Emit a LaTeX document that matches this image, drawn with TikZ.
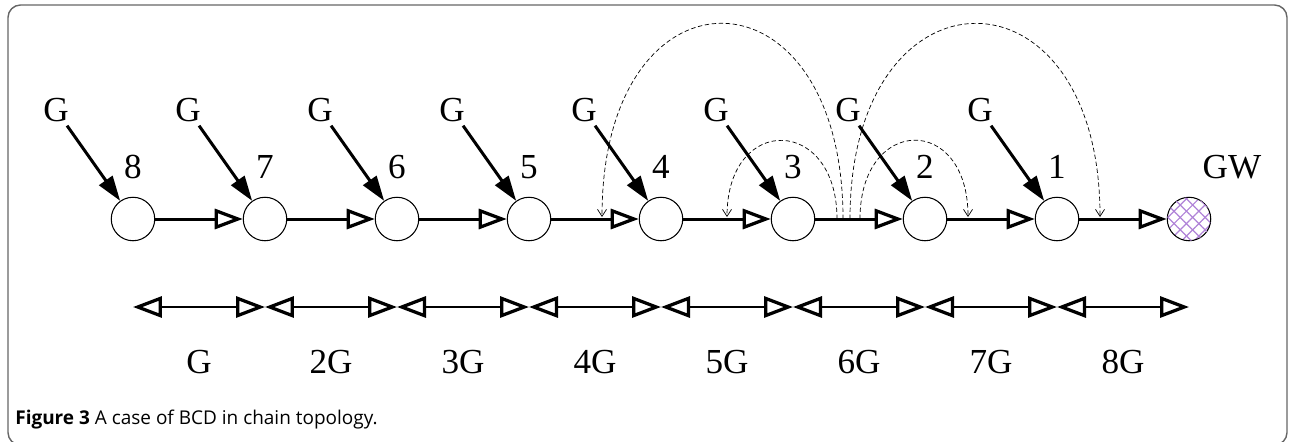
\documentclass[tikz,border=0pt]{standalone}
\usepackage{fontspec}
\setmainfont{Liberation Serif}
\newfontfamily\capfont{Open Sans}
\usepackage{xcolor}
\usepackage{tikz}
\usetikzlibrary{arrows.meta, patterns.meta}
\definecolor{hatch}{RGB}{175,130,215}

\begin{document}
\begin{tikzpicture}[x=0.02cm, y=0.02cm,
    station/.style={circle, draw, minimum size=0.87cm, inner sep=0pt, line width=0.6pt, fill=white},
    lbl/.style={font=\fontsize{20}{20}\selectfont, inner sep=2pt},
    hop/.style={line width=0.06cm, -{Triangle[open, length=0.56cm, width=0.4cm, line width=0.065cm]}},
    feed/.style={line width=0.06cm, -{Triangle[length=0.5cm, width=0.32cm]}},
    span/.style={line width=0.055cm, {Triangle[open, length=0.58cm, width=0.42cm, line width=0.065cm]}-{Triangle[open, length=0.58cm, width=0.42cm, line width=0.065cm]}},
    relay/.style={line width=0.4pt, dash pattern=on 2.5pt off 1.5pt, -{Straight Barb[length=0.14cm, width=0.18cm]}}]
  \useasboundingbox (0,0) rectangle (1291,441);
  \draw[black!60, line width=0.8pt, rounded corners=0.25cm] (8,-4) rectangle (1287,436);

  % chain of stations
  \node[station] at (133,222) (n8) {};
  \node[station] at (265,222) (n7) {};
  \node[station] at (397,222) (n6) {};
  \node[station] at (529,222) (n5) {};
  \node[station] at (661,222) (n4) {};
  \node[station] at (793,222) (n3) {};
  \node[station] at (925,222) (n2) {};
  \node[station] at (1057,222) (n1) {};
  \node[station, pattern={Lines[angle=45, distance=5pt, line width=0.7pt]}, pattern color=hatch,
        postaction={pattern={Lines[angle=-45, distance=5pt, line width=0.7pt]}, pattern color=hatch}]
        at (1189,222) (gw) {};

  \node[lbl] at (133,274) (l8) {8};
  \node[lbl] at (265,274) (l7) {7};
  \node[lbl] at (397,274) (l6) {6};
  \node[lbl] at (529,274) (l5) {5};
  \node[lbl] at (661,274) (l4) {4};
  \node[lbl] at (793,274) (l3) {3};
  \node[lbl] at (925,274) (l2) {2};
  \node[lbl] at (1057,274) (l1) {1};
  \node[lbl] at (1232,274) (lgw) {GW};

  \node[lbl] at (56,331) (g8) {G};
  \node[lbl] at (188,331) (g7) {G};
  \node[lbl] at (320,331) (g6) {G};
  \node[lbl] at (452,331) (g5) {G};
  \node[lbl] at (584,331) (g4) {G};
  \node[lbl] at (716,331) (g3) {G};
  \node[lbl] at (848,331) (g2) {G};
  \node[lbl] at (980,331) (g1) {G};

  \draw[hop] (n8) -- (n7);
  \draw[hop] (n7) -- (n6);
  \draw[hop] (n6) -- (n5);
  \draw[hop] (n5) -- (n4);
  \draw[hop] (n4) -- (n3);
  \draw[hop] (n3) -- (n2);
  \draw[hop] (n2) -- (n1);
  \draw[hop] (n1) -- (gw);

  \draw[feed] (g8) -- (n8);
  \draw[feed] (g7) -- (n7);
  \draw[feed] (g6) -- (n6);
  \draw[feed] (g5) -- (n5);
  \draw[feed] (g4) -- (n4);
  \draw[feed] (g3) -- (n3);
  \draw[feed] (g2) -- (n2);
  \draw[feed] (g1) -- (n1);

  % dashed arcs out of link 3-2
  \coordinate (a1) at (837,222);
  \coordinate (a2) at (843,222);
  \coordinate (a3) at (850,222);
  \coordinate (a4) at (860,222);
  \coordinate (b1) at (727,224);
  \coordinate (b2) at (602,224);
  \coordinate (b3) at (1100,224);
  \coordinate (b4) at (968,224);
  \draw[relay] (a1) to[out=90, in=90, looseness=2.4] (b1);
  \draw[relay] (a2) to[out=90, in=90, looseness=2.75] (b2);
  \draw[relay] (a3) to[out=90, in=90, looseness=2.65] (b3);
  \draw[relay] (a4) to[out=90, in=90, looseness=2.45] (b4);

  % distance scale
  \coordinate (r0) at (133,134);
  \coordinate (r1) at (265,134);
  \coordinate (r2) at (397,134);
  \coordinate (r3) at (529,134);
  \coordinate (r4) at (661,134);
  \coordinate (r5) at (793,134);
  \coordinate (r6) at (925,134);
  \coordinate (r7) at (1057,134);
  \coordinate (r8) at (1189,134);
  \draw[span] (r0) -- (r1);
  \draw[span] (r1) -- (r2);
  \draw[span] (r2) -- (r3);
  \draw[span] (r3) -- (r4);
  \draw[span] (r4) -- (r5);
  \draw[span] (r5) -- (r6);
  \draw[span] (r6) -- (r7);
  \draw[span] (r7) -- (r8);

  \node[lbl] at (199,79) (s1) {G};
  \node[lbl] at (331,79) (s2) {2G};
  \node[lbl] at (463,79) (s3) {3G};
  \node[lbl] at (595,79) (s4) {4G};
  \node[lbl] at (727,79) (s5) {5G};
  \node[lbl] at (859,79) (s6) {6G};
  \node[lbl] at (991,79) (s7) {7G};
  \node[lbl] at (1123,79) (s8) {8G};

  \node[anchor=base west, inner sep=0pt, font=\capfont\fontsize{10.8}{12}\selectfont] at (15,17) (cap)
    {\textbf{Figure 3} A case of BCD in chain topology.};
\end{tikzpicture}
\end{document}
